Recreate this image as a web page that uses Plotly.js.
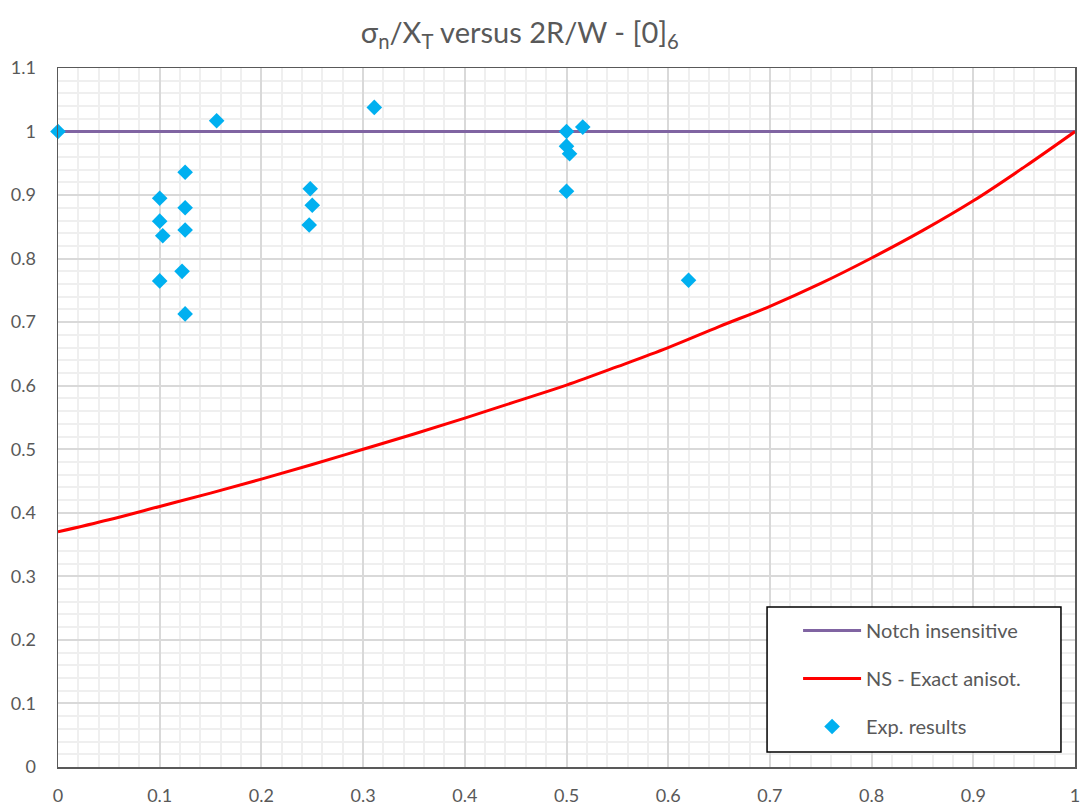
<!DOCTYPE html>
<html>
<head>
<meta charset="utf-8">
<script src="https://cdn.plot.ly/plotly-3.0.1.min.js"></script>
<style>html,body{margin:0;padding:0;background:#fff;}#chart{width:1083px;height:810px;}</style>
</head>
<body>
<div id="chart"></div>
<script>
// Notch insensitive line
const insensX = [0, 1];
const insensY = [1, 1];

// NS - Exact anisot. curve
const nsX = [0, 0.05, 0.1, 0.15, 0.2, 0.25, 0.3, 0.35, 0.4, 0.45, 0.5, 0.55, 0.6, 0.65, 0.7, 0.75, 0.8, 0.85, 0.9, 0.95, 1.0];
const nsY = [0.370, 0.389, 0.410, 0.431, 0.453, 0.476, 0.500, 0.524, 0.549, 0.575, 0.601, 0.630, 0.660, 0.693, 0.725, 0.761, 0.801, 0.844, 0.891, 0.944, 1.0];

// Experimental results
const expX = [0, 0.156, 0.311, 0.1, 0.1, 0.103, 0.1, 0.125, 0.125, 0.125, 0.122, 0.125, 0.248, 0.25, 0.247, 0.5, 0.5, 0.503, 0.5, 0.516, 0.62];
const expY = [1.0, 1.017, 1.038, 0.895, 0.859, 0.836, 0.765, 0.936, 0.880, 0.845, 0.780, 0.713, 0.910, 0.884, 0.853, 1.0, 0.977, 0.965, 0.906, 1.007, 0.766];

const xTicks = [0, 0.1, 0.2, 0.3, 0.4, 0.5, 0.6, 0.7, 0.8, 0.9, 1];
const xTickText = ['0', '0.1', '0.2', '0.3', '0.4', '0.5', '0.6', '0.7', '0.8', '0.9', '1'];
const yTicks = [0, 0.1, 0.2, 0.3, 0.4, 0.5, 0.6, 0.7, 0.8, 0.9, 1, 1.1];
const yTickText = ['0', '0.1', '0.2', '0.3', '0.4', '0.5', '0.6', '0.7', '0.8', '0.9', '1', '1.1'];

const FONT = 'Lato, "Open Sans", sans-serif';
const GREY = '#595959';

const traces = [
  {x: insensX, y: insensY, type: 'scatter', mode: 'lines', name: 'Notch insensitive',
   line: {color: '#8064A2', width: 3}, legendgroup: 'a', cliponaxis: false},
  {x: nsX, y: nsY, type: 'scatter', mode: 'lines', name: 'NS - Exact anisot.',
   line: {color: '#FF0000', width: 3, shape: 'spline'}, legendgroup: 'b', cliponaxis: false},
  {x: expX, y: expY, type: 'scatter', mode: 'markers', name: 'Exp. results',
   marker: {symbol: 'diamond', color: '#00B0F0', size: 12}, legendgroup: 'c', cliponaxis: false}
];

const axisCommon = {
  showline: true, linecolor: '#595959', linewidth: 1.5, mirror: true,
  showgrid: true, gridcolor: '#D9D9D9', gridwidth: 2,
  zeroline: false, ticks: '', tickmode: 'array',
  tickfont: {family: FONT, size: 18, color: GREY}
};

const layout = {
  width: 1083, height: 810,
  paper_bgcolor: '#fff', plot_bgcolor: '#fff',
  margin: {l: 58, r: 8, t: 68, b: 43},
  title: {text: 'σ<sub>n</sub>/X<sub>T</sub> versus 2R/W - [0]<sub>6</sub>',
          font: {family: FONT, size: 29, color: GREY},
          x: 0.48, xanchor: 'center', y: 0.96, yanchor: 'middle'},
  xaxis: Object.assign({}, axisCommon, {range: [0, 1], tickvals: xTicks, ticktext: xTickText,
    ticklabelstandoff: 12,
    minor: {dtick: 0.02, showgrid: true, gridcolor: '#EFEFEF', gridwidth: 2}}),
  yaxis: Object.assign({}, axisCommon, {range: [0, 1.1], tickvals: yTicks, ticktext: yTickText,
    ticklabelstandoff: 17,
    minor: {dtick: 0.02, showgrid: true, gridcolor: '#EFEFEF', gridwidth: 2}}),
  shapes: [{type: 'rect', xref: 'paper', yref: 'paper',
            x0: 0.6972, x1: 0.9862, y0: 0.0215, y1: 0.2289,
            line: {color: '#000', width: 1.5}, fillcolor: '#fff', layer: 'above'}],
  showlegend: true,
  legend: {x: 0.7277, y: 0.2232, xanchor: 'left', yanchor: 'top',
           bgcolor: 'rgba(0,0,0,0)', borderwidth: 0,
           font: {family: FONT, size: 20, color: GREY},
           traceorder: 'grouped', tracegroupgap: 19, itemwidth: 58}
};

Plotly.newPlot('chart', traces, layout, {displayModeBar: false, staticPlot: true});
</script>
</body>
</html>
